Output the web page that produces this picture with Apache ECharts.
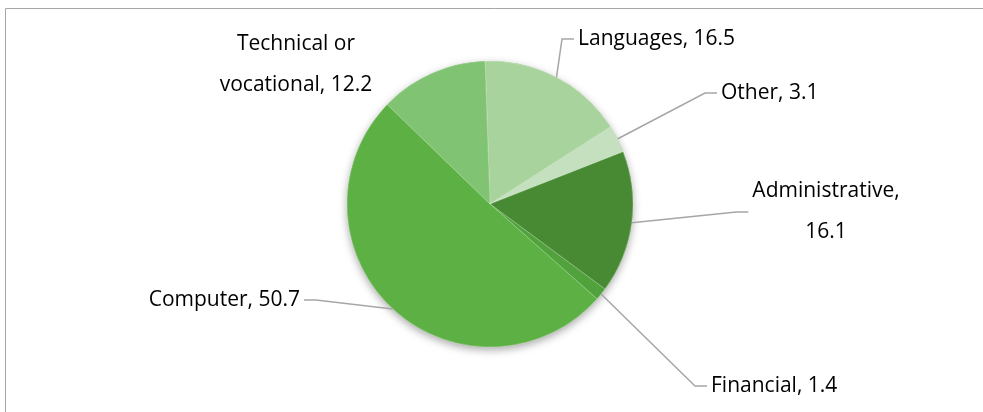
<!DOCTYPE html>
<html>
<head>
<meta charset="utf-8">
<script src="https://cdn.jsdelivr.net/npm/echarts@6/dist/echarts.min.js"></script>
<style>
html,body{margin:0;padding:0;background:#fff;}
#chart{width:983px;height:412px;}
</style>
</head>
<body>
<div id="chart"></div>
<script>
const categories = ['Languages', 'Other', 'Administrative', 'Financial', 'Computer', 'Technical or vocational'];
const values = [16.5, 3.1, 16.1, 1.4, 50.7, 12.2];
const labelTexts = ['Languages, 16.5', 'Other, 3.1', 'Administrative,\n16.1', 'Financial, 1.4', 'Computer, 50.7', 'Technical or\nvocational, 12.2'];
const colors = ['#a9d39c', '#c5e0bf', '#488a33', '#51a23d', '#5db144', '#80c372'];
// label anchor placement (x, y, align) per slice
const labelPos = [
  {x: 574, y: 39, align: 'left'},
  {x: 717, y: 93, align: 'left'},
  {x: 826, y: 212, align: 'center'},
  {x: 707, y: 386, align: 'left'},
  {x: 304, y: 300, align: 'right'},
  {x: 296, y: 65, align: 'center'}
];

const chart = echarts.init(document.getElementById('chart'), null, {renderer: 'canvas'});
const data = categories.map((c, i) => ({
  name: c,
  value: values[i],
  itemStyle: {color: colors[i]},
  label: {formatter: labelTexts[i]},
  labelLine: {show: i !== 5}
}));

chart.setOption({
  animation: false,
  graphic: [{
    type: 'rect',
    shape: {x: 5.5, y: 8.5, width: 1100, height: 600},
    style: {fill: 'none', stroke: '#a6a6a6', lineWidth: 1},
    z: -10
  }],
  series: [
    {
      type: 'pie',
      silent: true,
      center: [490, 204],
      radius: 143,
      z: 1,
      label: {show: false},
      labelLine: {show: false},
      data: [{value: 1, itemStyle: {color: '#5db144', shadowBlur: 8, shadowColor: 'rgba(0,0,0,0.35)', shadowOffsetY: 3}}]
    },
    {
      type: 'pie',
      center: [490, 204],
      radius: 143,
      startAngle: 92,
      clockwise: true,
      z: 2,
      itemStyle: {borderColor: 'rgba(255,255,255,0.5)', borderWidth: 0.5},
      label: {
        show: true,
        position: 'outside',
        fontFamily: 'Open Sans',
        fontSize: 21,
        color: '#000',
        lineHeight: 41,
        align: 'center',
        padding: [0, 4]
      },
      labelLine: {
        show: true,
        length: 20,
        length2: 12,
        lineStyle: {color: '#a6a6a6', width: 1.5}
      },
      labelLayout: function (params) {
        const p = labelPos[params.dataIndex];
        return {x: p.x, y: p.y, align: p.align, verticalAlign: 'middle'};
      },
      data: data
    }
  ]
});
</script>
</body>
</html>
